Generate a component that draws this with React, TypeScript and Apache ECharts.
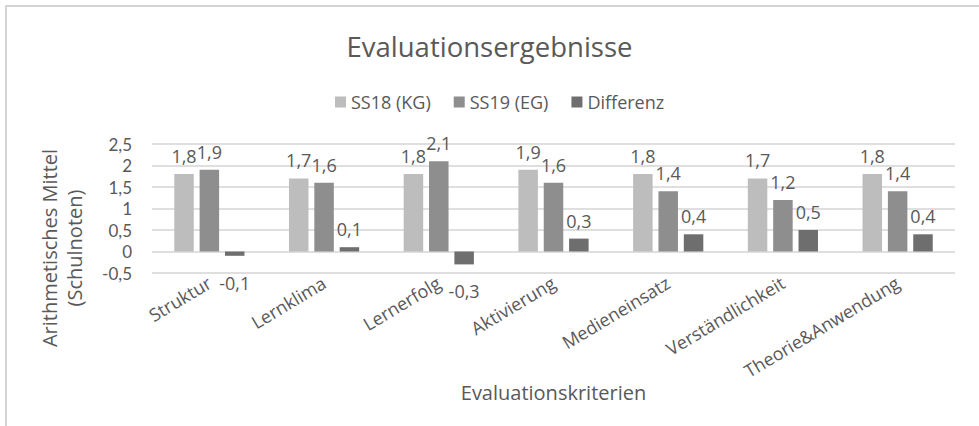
import React, { useEffect, useRef } from "react";
import * as echarts from "echarts";

const categories = [
  "Struktur",
  "Lernklima",
  "Lernerfolg",
  "Aktivierung",
  "Medieneinsatz",
  "Verständlichkeit",
  "Theorie&Anwendung",
];
const seriesNames = ["SS18 (KG)", "SS19 (EG)", "Differenz"];
const ss18 = [1.8, 1.7, 1.8, 1.9, 1.8, 1.7, 1.8];
const ss19 = [1.9, 1.6, 2.1, 1.6, 1.4, 1.2, 1.4];
const diff = [-0.1, 0.1, -0.3, 0.3, 0.4, 0.5, 0.4];
const yTicks = { min: -0.5, max: 2.5, interval: 0.5 };

const FONT = "'Open Sans', 'Noto Sans', sans-serif";
const TICK_FONT = "Lato, 'Open Sans', sans-serif";
const TEXT = "#595959";
const colors = ["#BDBDBD", "#8E8E8E", "#6E6E6E"];

const fmt = (v: number) => String(v).replace(".", ",");

function toData(values: number[]) {
  return values.map((v) => ({
    value: v,
    label:
      v < 0
        ? { position: "bottom", distance: 17 }
        : { position: "top", distance: 8 },
  }));
}

export default function App() {
  const ref = useRef<HTMLDivElement>(null);
  useEffect(() => {
    document.body.style.margin = "0";
    if (!ref.current) return;
    const chart = echarts.init(ref.current, undefined, { renderer: "svg" });
    const labelStyle = {
      show: true,
      fontFamily: FONT,
      fontSize: 18,
      lineHeight: 20,
      color: TEXT,
      formatter: (p: any) => fmt(p.value),
    };
    const mk = (name: string, values: number[], i: number) => ({
      name,
      type: "bar",
      data: toData(values),
      barWidth: "17%",
      barGap: "30%",
      itemStyle: { color: colors[i] },
      label: labelStyle,
    });
    chart.setOption({
      animation: false,
      backgroundColor: "#ffffff",
      title: {
        text: "Evaluationsergebnisse",
        left: "center",
        top: 27,
        textStyle: {
          fontFamily: FONT,
          fontSize: 27.5,
          fontWeight: "normal",
          color: TEXT,
        },
      },
      legend: {
        data: seriesNames,
        left: 330,
        top: 88,
        icon: "rect",
        itemWidth: 11,
        itemHeight: 11,
        itemGap: 23,
        textStyle: { fontFamily: FONT, fontSize: 18, color: TEXT },
      },
      grid: { left: 152, right: 24, top: 144, height: 129, containLabel: false },
      xAxis: {
        type: "category",
        data: categories,
        axisLine: { show: false },
        axisTick: { show: false },
        axisLabel: {
          interval: 0,
          rotate: 31,
          margin: 8,
          fontFamily: FONT,
          fontSize: 18,
          color: TEXT,
        },
        name: "Evaluationskriterien",
        nameLocation: "middle",
        nameGap: 106,
        nameTextStyle: { fontFamily: FONT, fontSize: 20, color: TEXT },
      },
      yAxis: {
        type: "value",
        min: yTicks.min,
        max: yTicks.max,
        interval: yTicks.interval,
        axisLine: { show: false },
        axisTick: { show: false },
        splitLine: { lineStyle: { color: "#D4D4D4", width: 1.5 } },
        axisLabel: {
          margin: 20,
          fontFamily: TICK_FONT,
          fontSize: 17,
          lineHeight: 18,
          color: TEXT,
          formatter: (v: number) => fmt(v),
        },
      },
      graphic: [
        {
          type: "rect",
          shape: { x: 6, y: 6, width: 1100, height: 600 },
          style: { fill: "none", stroke: "#D4D4D4", lineWidth: 2 },
          silent: true,
        },
        {
          type: "text",
          x: 62,
          y: 248,
          rotation: Math.PI / 2,
          style: {
            text: "Arithmetisches Mittel\n(Schulnoten)",
            fontFamily: FONT,
            fontSize: 20,
            lineHeight: 25,
            fill: TEXT,
            textAlign: "center",
            textVerticalAlign: "middle",
          },
        },
      ],
      series: [mk(seriesNames[0], ss18, 0), mk(seriesNames[1], ss19, 1), mk(seriesNames[2], diff, 2)],
    });
    return () => chart.dispose();
  }, []);
  return (
    <div
      ref={ref}
      style={{ position: "fixed", left: 0, top: 0, width: 979, height: 426 }}
    />
  );
}
